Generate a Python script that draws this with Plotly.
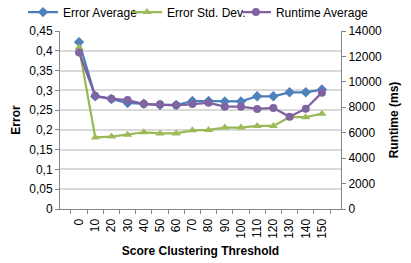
import plotly.graph_objects as go

thresholds = ["0", "10", "20", "30", "40", "50", "60", "70", "80", "90", "100", "110", "120", "130", "140", "150"]
error_avg = [0.422, 0.285, 0.278, 0.268, 0.266, 0.263, 0.263, 0.273, 0.273, 0.272, 0.272, 0.285, 0.285, 0.295, 0.295, 0.302]
error_std = [0.408, 0.181, 0.183, 0.188, 0.194, 0.191, 0.191, 0.199, 0.200, 0.206, 0.206, 0.210, 0.210, 0.232, 0.232, 0.241]
runtime_avg = [12300, 8900, 8680, 8570, 8250, 8230, 8160, 8250, 8350, 8050, 8050, 7870, 7950, 7260, 7890, 9150]

font = "Liberation Sans, Arial, sans-serif"
fig = go.Figure()
fig.add_trace(go.Scatter(x=thresholds, y=error_avg, name="Error Average", mode="lines+markers",
                         legend="legend",
                         line=dict(color="#4A7EBB", width=2.25),
                         marker=dict(symbol="diamond", size=8, color="#4F81BD")))
fig.add_trace(go.Scatter(x=thresholds, y=error_std, name="Error Std. Dev.", mode="lines+markers",
                         legend="legend2",
                         line=dict(color="#98B954", width=2.25),
                         marker=dict(symbol="triangle-up", size=8, color="#9BBB59")))
fig.add_trace(go.Scatter(x=thresholds, y=runtime_avg, name="Runtime Average", mode="lines+markers",
                         yaxis="y2", legend="legend3",
                         line=dict(color="#7D60A0", width=2.25),
                         marker=dict(symbol="circle", size=8, color="#8064A2")))

def leg(xpos):
    return dict(orientation="h", x=xpos, xanchor="left", xref="container",
                y=0.954, yanchor="middle", yref="container",
                font=dict(size=12), itemwidth=30, bgcolor="rgba(0,0,0,0)")

fig.update_layout(
    width=411, height=263,
    margin=dict(l=60, r=70, t=31, b=54, autoexpand=False),
    paper_bgcolor="white", plot_bgcolor="white",
    separators=",.",
    font=dict(family=font, size=12, color="#000000"),
    showlegend=True,
    legend=leg(0.056), legend2=leg(0.309), legend3=leg(0.574),
    xaxis=dict(type="category", tickangle=-90, tickson="boundaries",
               ticks="outside", ticklen=4, tickcolor="#868686",
               showline=True, linecolor="#868686", linewidth=1,
               showgrid=False, tickfont=dict(size=12), ticklabelstandoff=4,
               title=dict(text="<b>Score Clustering Threshold</b>", font=dict(size=12), standoff=8)),
    yaxis=dict(range=[0, 0.45], dtick=0.05, tickformat=".2~f",
               ticks="outside", ticklen=4, tickcolor="#868686",
               showline=True, linecolor="#868686", linewidth=1,
               showgrid=True, gridcolor="#D9D9D9", gridwidth=1.5, zeroline=False,
               tickfont=dict(size=12),
               title=dict(text="<b>Error</b>", font=dict(size=12), standoff=6)),
    yaxis2=dict(range=[0, 14000], dtick=2000, tickformat="d", overlaying="y", side="right",
                ticks="outside", ticklen=4, tickcolor="#868686",
                showline=True, linecolor="#868686", linewidth=1,
                showgrid=False, zeroline=False, tickfont=dict(size=12),
                title=dict(text="<b>Runtime (ms)</b>", font=dict(size=12), standoff=8)),
)

fig.write_html("out.html", config={"displayModeBar": False},
               post_script="document.body.style.margin='0';")
